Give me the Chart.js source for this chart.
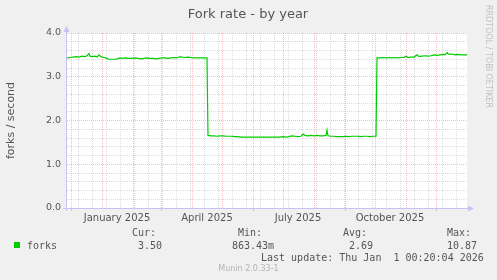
<!DOCTYPE html>
<html>
<head>
<meta charset="utf-8">
<script src="https://cdn.jsdelivr.net/npm/chart.js@4.4.1/dist/chart.umd.min.js"></script>
<style>
html, body { margin: 0; padding: 0; background: #f0f0f0; }
canvas { display: block; }
</style>
</head>
<body>
<canvas id="chartCanvas" width="497" height="280"></canvas>
<script>
// x = days since 2025-01-01
const days = [
  -35, -32, -29, -26, -23, -20, -17, -15, -13, -12, -10, -7, -5, -3, -1,
  2, 5, 7, 10, 13, 15, 18, 21, 24, 27, 30, 33, 36, 39, 42, 45, 48, 51, 54, 57,
  60, 63, 66, 69, 72, 75, 78, 80, 83, 86, 89, 92, 95, 98, 101, 105,
  106, 109, 112, 115, 118, 121, 124, 127, 130, 133, 136, 139, 142, 145, 148,
  151, 154, 157, 160, 163, 166, 169, 172, 175, 178, 181, 184, 187, 190, 193,
  196, 199, 201, 203, 206, 209, 212, 215, 218, 221, 224, 225, 226, 229, 232,
  235, 238, 241, 244, 247, 250, 253, 256, 259, 262, 265, 268, 271, 274,
  275, 278, 281, 284, 287, 290, 293, 296, 299, 302, 304, 306, 309, 312, 315,
  317, 320, 323, 326, 329, 332, 335, 338, 341, 343, 345, 347, 350, 353, 356,
  359, 362, 365
];
const forks = [
  3.43, 3.44, 3.45, 3.46, 3.45, 3.47, 3.46, 3.48, 3.53, 3.47, 3.46, 3.47, 3.45, 3.50, 3.46,
  3.44, 3.42, 3.40, 3.40, 3.40, 3.41, 3.43, 3.42, 3.43, 3.42, 3.42, 3.43, 3.42, 3.41, 3.42, 3.43, 3.42, 3.42, 3.41, 3.42,
  3.43, 3.43, 3.42, 3.43, 3.44, 3.43, 3.46, 3.45, 3.44, 3.45, 3.44, 3.43, 3.43, 3.43, 3.43, 3.43,
  1.66, 1.65, 1.65, 1.64, 1.65, 1.65, 1.64, 1.64, 1.64, 1.63, 1.63, 1.62, 1.62, 1.62, 1.62,
  1.62, 1.62, 1.62, 1.62, 1.62, 1.62, 1.62, 1.62, 1.62, 1.62, 1.63, 1.62, 1.63, 1.65, 1.64,
  1.63, 1.64, 1.69, 1.66, 1.65, 1.66, 1.65, 1.66, 1.65, 1.65, 1.66, 1.78, 1.65, 1.64, 1.64,
  1.63, 1.63, 1.63, 1.64, 1.63, 1.64, 1.64, 1.64, 1.63, 1.64, 1.64, 1.63, 1.64, 1.64,
  3.43, 3.43, 3.44, 3.43, 3.44, 3.43, 3.44, 3.43, 3.44, 3.44, 3.47, 3.44, 3.45, 3.45, 3.50,
  3.46, 3.47, 3.48, 3.47, 3.48, 3.50, 3.49, 3.50, 3.51, 3.50, 3.55, 3.51, 3.52, 3.50, 3.51,
  3.50, 3.50, 3.50
];

// x grid: month starts (red), biweekly (grey), month label positions
const monthStarts = [-31, 0, 31, 59, 90, 120, 151, 181, 212, 243, 273, 304, 334];
const quarterStarts = [-31, 59, 151, 243, 334];
const weekLines = [-24, -10, 4, 18, 32, 46, 60, 74, 88, 102, 116, 130, 144, 158, 172,
  186, 200, 214, 228, 242, 256, 270, 284, 298, 312, 326, 340, 354];
const labelDays = [15, 105, 196, 288];
const labelTexts = ['January 2025', 'April 2025', 'July 2025', 'October 2025'];

const legendHeaders = ['Cur:', 'Min:', 'Avg:', 'Max:'];
const legendValues = ['3.50', '863.43m', '2.69', '10.87'];

const MAJOR = 'rgba(255, 90, 90, 0.42)';
const MINOR = 'rgba(160, 160, 160, 0.38)';
const AXIS = '#c4c4f4';
const TEXT = '#555555';

Chart.defaults.font.family = 'DejaVu Sans';

function isInt(v) {
    return Math.abs(v - Math.round(v)) < 1e-6;
}

const muninPlugin = {
    id: 'munin',
    beforeDraw(chart) {
        const { ctx, chartArea: a } = chart;
        ctx.save();
        ctx.fillStyle = '#ffffff';
        ctx.fillRect(a.left, a.top, a.right - a.left, a.bottom - a.top);
        ctx.restore();
    },
    afterDraw(chart) {
        const { ctx, chartArea: a } = chart;
        ctx.save();

        // 軸と矢印
        ctx.strokeStyle = AXIS;
        ctx.fillStyle = AXIS;
        ctx.lineWidth = 1;
        ctx.beginPath();
        ctx.moveTo(a.left - 0.5, a.bottom + 3);
        ctx.lineTo(a.left - 0.5, a.top - 3);
        ctx.moveTo(a.left - 4, a.bottom + 0.5);
        ctx.lineTo(a.right + 3, a.bottom + 0.5);
        ctx.stroke();
        ctx.beginPath();
        ctx.moveTo(a.left - 3.5, a.top - 1);
        ctx.lineTo(a.left + 2.5, a.top - 1);
        ctx.lineTo(a.left - 0.5, a.top - 7);
        ctx.closePath();
        ctx.fill();
        ctx.beginPath();
        ctx.moveTo(a.right + 1, a.bottom - 2.5);
        ctx.lineTo(a.right + 1, a.bottom + 3.5);
        ctx.lineTo(a.right + 7, a.bottom + 0.5);
        ctx.closePath();
        ctx.fill();

        // タイトル
        ctx.fillStyle = TEXT;
        ctx.font = '13px "DejaVu Sans"';
        ctx.textAlign = 'center';
        ctx.textBaseline = 'alphabetic';
        ctx.fillText('Fork rate - by year', 248, 18);

        // 右側の縦書き
        ctx.save();
        ctx.translate(488, 5);
        ctx.rotate(Math.PI / 2);
        ctx.fillStyle = '#c0c0c0';
        ctx.font = '8px "DejaVu Sans"';
        ctx.textAlign = 'left';
        ctx.textBaseline = 'middle';
        ctx.fillText('RRDTOOL / TOBI OETIKER', 0, 0);
        ctx.restore();

        // 凡例
        ctx.font = '10px "DejaVu Sans Mono"';
        ctx.textAlign = 'left';
        ctx.textBaseline = 'middle';
        ctx.fillStyle = TEXT;
        const headerX = [132, 238, 343, 447];
        const valueX = [138, 232, 349, 447];
        legendHeaders.forEach((h, i) => ctx.fillText(h, headerX[i], 233.5));
        legendValues.forEach((v, i) => ctx.fillText(v, valueX[i], 246));
        ctx.fillText('forks', 27, 246);
        ctx.fillStyle = '#00cc00';
        ctx.fillRect(14, 242, 6, 6);
        ctx.fillStyle = TEXT;
        ctx.fillText('Last update: Thu Jan  1 00:20:04 2026', 261, 258);

        ctx.fillStyle = '#b4b4b4';
        ctx.font = '8px "DejaVu Sans"';
        ctx.textAlign = 'center';
        ctx.fillText('Munin 2.0.33-1', 248.5, 269);
        ctx.restore();
    }
};

const xTicks = [...monthStarts, ...weekLines, ...labelDays].sort((p, q) => p - q);

const ctx = document.getElementById('chartCanvas').getContext('2d');
new Chart(ctx, {
    type: 'line',
    data: {
        datasets: [{
            label: 'forks',
            data: days.map((d, i) => ({ x: d, y: forks[i] })),
            borderColor: '#00cc00',
            borderWidth: 1.2,
            pointRadius: 0,
            tension: 0,
            fill: false
        }]
    },
    options: {
        responsive: false,
        animation: false,
        devicePixelRatio: 1,
        layout: { padding: { top: 33, right: 30, bottom: 0, left: 0 } },
        plugins: {
            legend: { display: false },
            title: { display: false },
            tooltip: { enabled: false }
        },
        scales: {
            x: {
                type: 'linear',
                min: -35,
                max: 365,
                afterFit: (scale) => { scale.height = 72; },
                afterBuildTicks: (scale) => {
                    scale.ticks = xTicks.map(v => ({ value: v }));
                },
                border: {
                    display: false,
                    dash: (c) => [1, 1]
                },
                grid: {
                    color: (c) => {
                        const v = c.tick && c.tick.value;
                        if (monthStarts.includes(v)) return MAJOR;
                        if (weekLines.includes(v)) return MINOR;
                        return 'rgba(0,0,0,0)';
                    },
                    lineWidth: 1,
                    drawTicks: true,
                    tickLength: 3,
                    tickColor: (c) => {
                        const v = c.tick && c.tick.value;
                        return quarterStarts.includes(v) ? MAJOR : 'rgba(0,0,0,0)';
                    }
                },
                ticks: {
                    autoSkip: false,
                    maxRotation: 0,
                    padding: 1,
                    color: TEXT,
                    font: { size: 10 },
                    callback: (v) => {
                        const i = labelDays.indexOf(v);
                        return i >= 0 ? labelTexts[i] : '';
                    }
                }
            },
            y: {
                min: 0,
                max: 4,
                afterFit: (scale) => { scale.width = 67; },
                border: {
                    display: false,
                    dash: (c) => [1, 1]
                },
                grid: {
                    color: (c) => {
                        const v = c.tick ? c.tick.value : 0;
                        return isInt(v) ? MAJOR : MINOR;
                    },
                    lineWidth: 1,
                    drawTicks: false
                },
                ticks: {
                    stepSize: 0.2,
                    autoSkip: false,
                    padding: 6,
                    color: TEXT,
                    font: { size: 9.5 },
                    callback: (v) => isInt(v) ? v.toFixed(1) : ''
                },
                title: {
                    display: true,
                    text: 'forks / second',
                    color: TEXT,
                    font: { size: 11 },
                    padding: { top: 5, bottom: 0 }
                }
            }
        }
    },
    plugins: [muninPlugin]
});
</script>
</body>
</html>
